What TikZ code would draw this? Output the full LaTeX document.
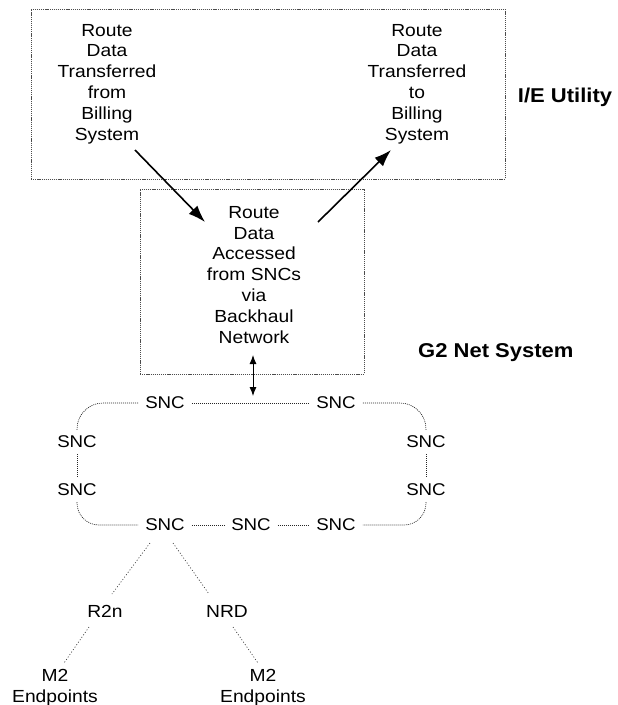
\documentclass[tikz,border=0pt]{standalone}
\usepackage{fontspec}
\setmainfont{Liberation Sans}[FakeStretch=1.1]
\usetikzlibrary{arrows.meta,calc}
\begin{document}
\begin{tikzpicture}[x=1pt,y=1pt,
  txt/.style={align=center,inner sep=0pt,font=\fontsize{17.5}{20.8}\selectfont},
  lbl/.style={inner sep=0pt,font=\bfseries\fontsize{20}{24}\selectfont},
  snc/.style={inner xsep=7pt,inner ysep=6pt,font=\fontsize{17}{20}\selectfont},
  dbox/.style={draw=black!70,line width=0.6pt,dash pattern=on 1.2pt off 0.9pt,inner sep=0pt},
  ring/.style={draw=black!85,line width=0.65pt,dash pattern=on 1pt off 1pt},
  leaf/.style={draw=black!80,line width=0.65pt,dash pattern=on 1pt off 2pt},
  bigarrow/.style={line width=1.6pt,-{Latex[length=17pt,width=12pt]}},
  dblarrow/.style={line width=0.9pt,{Latex[length=9pt,width=7pt]}-{Latex[length=9pt,width=7pt]}}
]
\useasboundingbox (0,0) rectangle (618,-705);
% boxes
\node[dbox,minimum width=474pt,minimum height=170pt] (ie) at (268,-94) {};
\node[dbox,minimum width=224pt,minimum height=185pt] (bh) at (252,-281.5) {};
% texts
\node[txt,anchor=north] (from) at (107,-23.8) {Route\\Data\\Transferred\\from\\Billing\\System};
\node[txt,anchor=north] (to) at (417,-23.8) {Route\\Data\\Transferred\\to\\Billing\\System};
\node[txt,anchor=north] (acc) at (254,-206) {Route\\Data\\Accessed\\from SNCs\\via\\Backhaul\\Network};
\node[lbl] (ieu) at (565,-97) {I/E Utility};
\node[lbl,anchor=west] (g2) at (418,-353) {G2 Net System};
% big arrows
\coordinate (a1s) at (135,-150);
\coordinate (a1e) at (205,-222);
\coordinate (a2s) at (318,-222);
\coordinate (a2e) at (391,-150);
\draw[bigarrow] (a1s) -- (a1e);
\draw[bigarrow] (a2s) -- (a2e);
% double arrow
\coordinate (d1) at (253,-355);
\coordinate (d2) at (253,-396);
\draw[dblarrow] (d1) -- (d2);
% SNC ring
\node[snc] (tl) at (165,-403) {SNC};
\node[snc] (tr) at (336,-403) {SNC};
\node[snc] (l1) at (77,-442) {SNC};
\node[snc] (l2) at (77,-490) {SNC};
\node[snc] (r1) at (426,-442) {SNC};
\node[snc] (r2) at (426,-490) {SNC};
\node[snc] (b1) at (165,-525) {SNC};
\node[snc] (b2) at (251,-525) {SNC};
\node[snc] (b3) at (336,-525) {SNC};
\draw[ring] (tl) -- (tr);
\draw[ring] (l1) -- (l2);
\draw[ring] (r1) -- (r2);
\draw[ring] (b1) -- (b2);
\draw[ring] (b2) -- (b3);
\draw[ring,rounded corners=26pt] (tl.west) -| (l1.north);
\draw[ring,rounded corners=26pt] (tr.east) -| (r1.north);
\draw[ring,rounded corners=22pt] (l2.south) |- (b1.west);
\draw[ring,rounded corners=22pt] (r2.south) |- (b3.east);
% leaves
\node[txt] (r2n) at (105,-611) {R2n};
\node[txt] (nrd) at (227,-611) {NRD};
\node[txt,anchor=north] (m2l) at (55,-668.8) {M2\\Endpoints};
\node[txt,anchor=north] (m2r) at (263,-668.8) {M2\\Endpoints};
\draw[leaf] ([shift={(-15pt,-18pt)}]b1.center) -- ([shift={(7pt,17pt)}]r2n.center);
\draw[leaf] ([shift={(8pt,-18pt)}]b1.center) -- ([shift={(-18pt,17pt)}]nrd.center);
\draw[leaf] ([shift={(-16pt,-16pt)}]r2n.center) -- ([shift={(9pt,5.8pt)}]m2l.north);
\draw[leaf] ([shift={(6pt,-16pt)}]nrd.center) -- ([shift={(-5pt,5.8pt)}]m2r.north);
\end{tikzpicture}
\end{document}
